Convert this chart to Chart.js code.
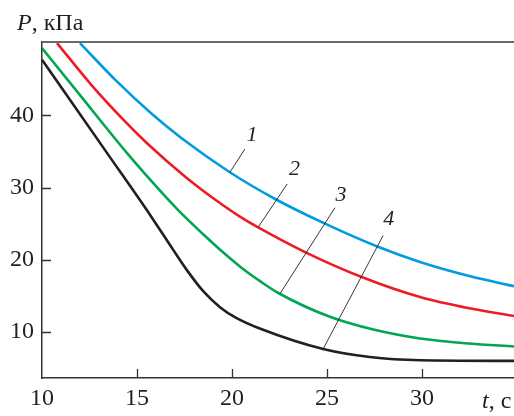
<!DOCTYPE html>
<html><head><meta charset="utf-8">
<script src="https://cdn.jsdelivr.net/npm/chart.js@4.4.1/dist/chart.umd.min.js"></script>
<style>html,body{margin:0;padding:0;background:#fff}#wrap{width:514px;height:416px;position:relative}</style>
</head><body><div id="wrap"><canvas id="c" width="514" height="416"></canvas></div>
<script>
// Tick labels
const xTicks = [10, 15, 20, 25, 30];
const yTicks = [10, 20, 30, 40];

// Curve 1 (blue)
const curve1X = [12.0, 13.86, 15.79, 17.35, 19.89, 22.3, 24.9, 27.62, 29.9, 32.5, 34.85];
const curve1Y = [50.0, 44.9, 40.17, 36.82, 32.12, 28.38, 25.0, 21.87, 19.7, 17.75, 16.34];
// Curve 2 (red)
const curve2X = [10.79, 12.63, 14.38, 15.5, 17.62, 19.2, 20.42, 21.38, 23.93, 26.9, 29.9, 32.5, 34.85];
const curve2Y = [50.0, 44.11, 39.12, 36.21, 31.33, 28.17, 25.97, 24.48, 20.96, 17.54, 14.84, 13.28, 12.22];
// Curve 3 (green)
const curve3X = [10.0, 12.0, 14.5, 16.38, 17.5, 18.5, 19.5, 20.5, 21.5, 22.44, 25.16, 27.5, 29.9, 32.5, 34.85];
const curve3Y = [49.3, 42.8, 34.7, 29.1, 26.0, 23.5, 21.1, 18.9, 17.0, 15.4, 12.1, 10.3, 9.1, 8.4, 8.0];
// Curve 4 (black)
const curve4X = [10.0, 13.42, 15.77, 16.9, 17.6, 18.5, 19.37, 20.2, 21.5, 24.8, 27.26, 29.9, 34.85];
const curve4Y = [47.7, 34.8, 25.9, 21.4, 18.67, 15.61, 13.44, 11.99, 10.44, 7.64, 6.53, 6.08, 6.0];

// Curve labels and leader lines (data coordinates)
const curveLabels = ['1', '2', '3', '4'];
const leaderFromX = [19.89, 21.38, 22.53, 24.8];
const leaderFromY = [32.1, 24.5, 15.3, 7.65];
const leaderToX = [20.68, 22.91, 25.42, 27.96];
const leaderToY = [35.33, 30.5, 27.2, 23.36];
const labelX = [21.05, 23.3, 25.74, 28.26];
const labelY = [37.3, 32.6, 28.9, 25.57];

const colors = ['#009cde', '#ed1c24', '#00a651', '#231f20'];
const xs = [curve1X, curve2X, curve3X, curve4X];
const ys = [curve1Y, curve2Y, curve3Y, curve4Y];
const SERIF = '"Liberation Serif", "Times New Roman", Times, serif';

const datasets = xs.map((arr, i) => ({
  data: arr.map((x, j) => ({x: x, y: ys[i][j]})),
  borderColor: colors[i],
  borderWidth: 2.6,
  pointRadius: 0,
  showLine: true,
  fill: false,
  cubicInterpolationMode: 'monotone'
}));

const decor = {
  id: 'decor',
  afterDraw(chart) {
    const ctx = chart.ctx;
    const xs_ = chart.scales.x, ys_ = chart.scales.y;
    const a = chart.chartArea;
    ctx.save();
    ctx.strokeStyle = '#6a6a6a';
    ctx.lineWidth = 2;
    ctx.beginPath();
    ctx.moveTo(a.left, a.top);
    ctx.lineTo(a.right, a.top);
    ctx.stroke();
    ctx.strokeStyle = '#333';
    ctx.lineWidth = 1.3;
    ctx.beginPath();
    yTicks.forEach(v => {
      const py = Math.round(ys_.getPixelForValue(v)) + 0.5;
      ctx.moveTo(a.left, py); ctx.lineTo(a.left + 9, py);
    });
    xTicks.forEach(v => {
      if (v === xs_.min) return;
      const px = Math.round(xs_.getPixelForValue(v)) + 0.5;
      ctx.moveTo(px, a.bottom); ctx.lineTo(px, a.bottom - 9);
    });
    ctx.stroke();
    ctx.strokeStyle = '#231f20';
    ctx.lineWidth = 0.9;
    ctx.beginPath();
    for (let i = 0; i < curveLabels.length; i++) {
      ctx.moveTo(xs_.getPixelForValue(leaderFromX[i]), ys_.getPixelForValue(leaderFromY[i]));
      ctx.lineTo(xs_.getPixelForValue(leaderToX[i]), ys_.getPixelForValue(leaderToY[i]));
    }
    ctx.stroke();
    ctx.fillStyle = '#231f20';
    ctx.font = 'italic 22px ' + SERIF;
    ctx.textAlign = 'center';
    ctx.textBaseline = 'middle';
    for (let i = 0; i < curveLabels.length; i++) {
      ctx.fillText(curveLabels[i], xs_.getPixelForValue(labelX[i]), ys_.getPixelForValue(labelY[i]));
    }
    ctx.textAlign = 'left';
    ctx.textBaseline = 'alphabetic';
    ctx.font = 'italic 24px ' + SERIF;
    ctx.fillText('P', 17, 30);
    let w = ctx.measureText('P').width;
    ctx.font = '24px ' + SERIF;
    ctx.fillText(', кПа', 17 + w, 30);
    ctx.font = 'italic 24px ' + SERIF;
    ctx.fillText('t', 482, 408);
    w = ctx.measureText('t').width;
    ctx.font = '24px ' + SERIF;
    ctx.fillText(', с', 482 + w, 408);
    ctx.restore();
  }
};

function build() {
  new Chart(document.getElementById('c'), {
    type: 'scatter',
    data: {datasets: datasets},
    options: {
      responsive: false,
      animation: false,
      devicePixelRatio: 1,
      layout: {padding: {top: 42, left: 0, right: 0, bottom: 0}},
      plugins: {legend: {display: false}, tooltip: {enabled: false}},
      scales: {
        x: {
          type: 'linear', min: 10, max: 34.85,
          afterFit(s) { s.height = 38; },
          afterBuildTicks(s) { s.ticks = xTicks.map(v => ({value: v})); },
          grid: {display: false, drawTicks: false, tickLength: 0},
          border: {display: true, color: '#333', width: 1.5},
          ticks: {font: {family: SERIF, size: 24}, color: '#231f20', padding: 6, maxRotation: 0, autoSkip: false}
        },
        y: {
          type: 'linear', min: 3.63, max: 50.15,
          afterFit(s) { s.width = 42; },
          afterBuildTicks(s) { s.ticks = yTicks.map(v => ({value: v})); },
          grid: {display: false, drawTicks: false, tickLength: 0},
          border: {display: true, color: '#333', width: 1.5},
          ticks: {font: {family: SERIF, size: 24}, color: '#231f20', padding: 8, autoSkip: false}
        }
      }
    },
    plugins: [decor]
  });
}
if (document.fonts && document.fonts.load) {
  Promise.all([
    document.fonts.load('24px "Liberation Serif"'),
    document.fonts.load('italic 24px "Liberation Serif"')
  ]).then(build, build);
} else { build(); }
</script>
</body></html>
